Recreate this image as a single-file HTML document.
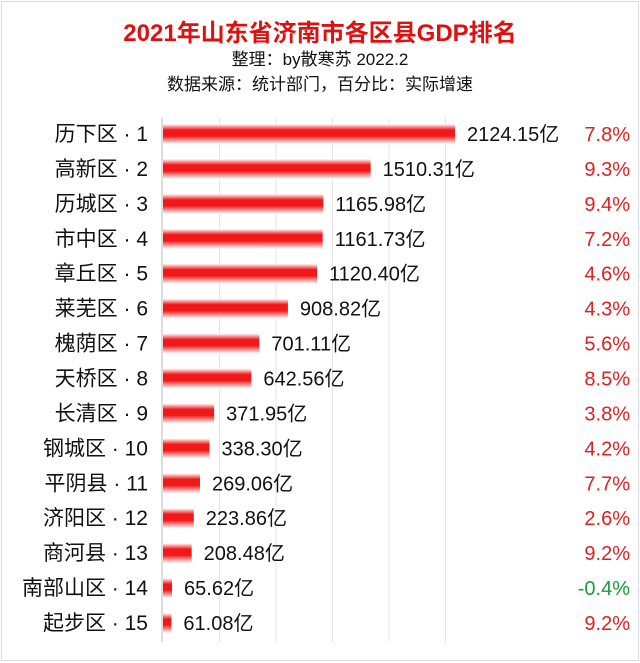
<!DOCTYPE html>
<html><head><meta charset="utf-8"><style>
body{margin:0;background:#fff;}
#wrap{position:relative;width:640px;height:663px;overflow:hidden;font-family:"Liberation Sans","Noto Sans CJK SC",sans-serif;}
.t{position:absolute;left:0;width:640px;text-align:center;}
</style></head><body>
<div id="wrap">
<div style="position:absolute;left:1px;top:1px;width:636px;height:658px;border:1px solid #ddd"></div>
<div class="t" style="top:13px;font-size:24px;font-weight:bold;color:#e01010">2021年山东省济南市各区县GDP排名</div>
<div class="t" style="top:45px;font-size:17px;color:#111">整理：by散寒苏 2022.2</div>
<div class="t" style="top:70px;font-size:17px;color:#111">数据来源：统计部门，百分比：实际增速</div>
<svg id="svg" width="640" height="663" style="position:absolute;left:0;top:0">
<defs><linearGradient id="g" x1="0" y1="0" x2="0" y2="1">
<stop offset="0" stop-color="#fff"/><stop offset="0.3" stop-color="#f01818"/><stop offset="0.6" stop-color="#f01818"/><stop offset="1" stop-color="#fff"/></linearGradient></defs>
</svg>
</div>
<script>
const categories=["历下区 · 1","高新区 · 2","历城区 · 3","市中区 · 4","章丘区 · 5","莱芜区 · 6","槐荫区 · 7","天桥区 · 8","长清区 · 9","钢城区 · 10","平阴县 · 11","济阳区 · 12","商河县 · 13","南部山区 · 14","起步区 · 15"];
const gdpValues=[2124.15,1510.31,1165.98,1161.73,1120.40,908.82,701.11,642.56,371.95,338.30,269.06,223.86,208.48,65.62,61.08];
const growthLabels=["7.8%","9.3%","9.4%","7.2%","4.6%","4.3%","5.6%","8.5%","3.8%","4.2%","7.7%","2.6%","9.2%","-0.4%","9.2%"];
const gridValues=[0,411,822,1233,1644,2055];
const NS="http://www.w3.org/2000/svg";
const svg=document.getElementById('svg');
const x0=163,k=292/2124.15;
const xs=v=>x0+v*k;
const ys=i=>134+i*34.93;
function mk(t,a){const e=document.createElementNS(NS,t);for(const n in a)e.setAttribute(n,a[n]);svg.appendChild(e);return e;}
gridValues.forEach((g,i)=>{if(i===0)return;
const l=mk('line',{x1:xs(g),x2:xs(g),y1:118,y2:642,stroke:'#e4e4e4','stroke-width':1});

});
const ax=mk('line',{x1:162,x2:162,y1:118,y2:642,stroke:'#bbb','stroke-width':1});


categories.forEach((c,i)=>{
const y=ys(i);
const lb=mk('text',{x:148,y:y+7,'text-anchor':'end','font-size':21,fill:'#111'});lb.textContent=c;


const b=mk('rect',{x:x0,y:y-10,width:Math.max(1,xs(gdpValues[i])-x0),height:20,fill:'url(#g)'});


const v=mk('text',{x:xs(gdpValues[i])+12,y:y+7,'font-size':20,fill:'#111'});v.textContent=gdpValues[i].toFixed(2)+'亿';


const neg=growthLabels[i].startsWith('-');
const p=mk('text',{x:630,y:y+7,'text-anchor':'end','font-size':20,fill:neg?'#1a9a3a':'#e02020'});p.textContent=growthLabels[i];


});
</script>
</body></html>
